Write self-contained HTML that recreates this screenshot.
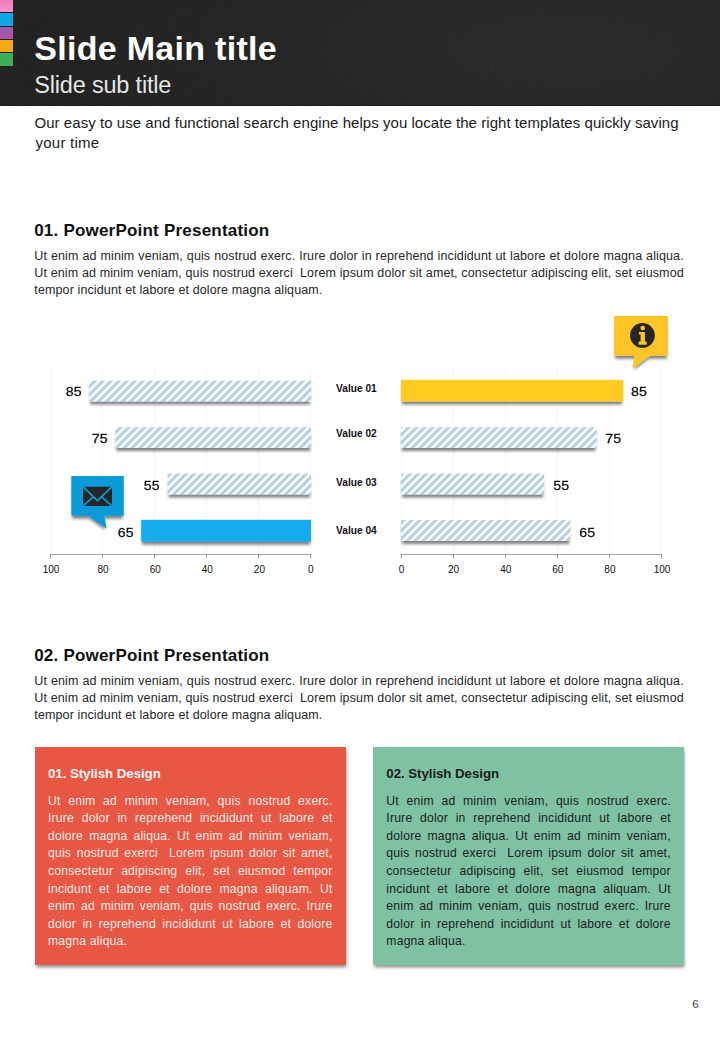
<!DOCTYPE html>
<html>
<head>
<meta charset="utf-8">
<title>Slide</title>
<style>
html,body{margin:0;padding:0;}
body{width:720px;height:1040px;position:relative;overflow:hidden;background:#fff;font-family:"Liberation Sans",sans-serif;color:#1a1a1a;}
.abs{position:absolute;white-space:nowrap;transform-origin:0 0;}
#hdr{position:absolute;left:0;top:0;width:720px;height:106px;background:radial-gradient(ellipse 520px 160px at 560px 50px,#282828 0%,#222222 60%,#1f1f1f 100%);border-bottom:0;box-shadow:inset 0 -1px 0 #161616;}
.tab{position:absolute;left:0;width:12.6px;height:12.3px;}
#t1{left:34.2px;top:25.5px;letter-spacing:0.3px;font-size:34px;font-weight:bold;color:#fff;line-height:44px;}
#t2{left:34.2px;top:69.9px;letter-spacing:-0.18px;font-size:23.5px;color:#e6e6e6;line-height:30px;}
.intro{font-size:15px;line-height:20px;color:#1a1a1a;}
.h2{letter-spacing:0.21px;font-size:17px;font-weight:bold;line-height:22px;color:#111;}
.p{font-size:12.5px;line-height:17.1px;color:#262626;letter-spacing:0.12px;}
.j{width:649.5px;text-align:justify;text-align-last:justify;}
.ax{font-size:10px;line-height:12px;color:#111;text-align:center;width:30px;}
.dl{font-size:14.2px;line-height:16px;color:#111;-webkit-text-stroke:0.3px #111;letter-spacing:0.1px;transform:scaleY(0.93);transform-origin:0 50%;}
.vl{font-size:10.2px;font-weight:bold;line-height:12px;color:#111;}
.box{position:absolute;top:747px;width:311px;height:218px;box-shadow:0.5px 2.5px 3px rgba(0,0,0,.42);}
.bh{font-size:13.3px;font-weight:bold;line-height:16px;letter-spacing:-0.06px;}
.bp{font-size:12.2px;line-height:17.6px;letter-spacing:0.2px;}
.bj{width:284.5px;text-align:justify;text-align-last:justify;}
</style>
</head>
<body>
<div id="hdr"></div>
<svg class="abs" style="left:0;top:0;opacity:.05" width="720" height="106"><filter id="nz"><feTurbulence type="fractalNoise" baseFrequency="0.45" numOctaves="2" seed="3"/><feColorMatrix type="saturate" values="0"/></filter><rect width="720" height="106" filter="url(#nz)"/></svg>
<div class="tab" style="top:0;background:linear-gradient(#f47cbd,#f68fcb)"></div>
<div class="tab" style="top:13.3px;background:#12a5e3"></div>
<div class="tab" style="top:27px;background:linear-gradient(#9a5bb0,#ab53a8)"></div>
<div class="tab" style="top:40px;height:12px;background:#f5a914"></div>
<div class="tab" style="top:53px;height:13px;background:#3eae5a"></div>
<div id="t1" class="abs">Slide Main title</div>
<div id="t2" class="abs">Slide sub title</div>

<div id="i1" class="abs intro" style="left:34.5px;top:113px;letter-spacing:0.047px">Our easy to use and functional search engine helps you locate the right templates quickly saving</div>
<div id="i2" class="abs intro" style="left:35.5px;top:133px;letter-spacing:0.25px">your time</div>

<div id="h1" class="abs h2" style="left:34.2px;top:219.6px">01. PowerPoint Presentation</div>
<div id="p11" class="abs p j" style="left:34.3px;top:248.0px">Ut enim ad minim veniam, quis nostrud exerc. Irure dolor in reprehend incididunt ut labore et dolore magna aliqua.</div>
<div id="p12" class="abs p j" style="left:34.3px;top:265.1px">Ut enim ad minim veniam, quis nostrud exerci&nbsp; Lorem ipsum dolor sit amet, consectetur adipiscing elit, set eiusmod</div>
<div id="p13" class="abs p" style="left:34.3px;top:282.2px">tempor incidunt et labore et dolore magna aliquam.</div>

<svg id="chart" class="abs" style="left:0;top:300px" width="720" height="300" viewBox="0 300 720 300">
<defs>
<pattern id="hatch" width="8" height="8" patternUnits="userSpaceOnUse" patternTransform="translate(0,4)">
<rect width="8" height="8" fill="#fff"/>
<path d="M-2,2L2,-2M-2,10L10,-2M6,10L10,6" stroke="#b4d1dc" stroke-width="3.15"/>
</pattern>
<filter id="sh" x="-10%" y="-30%" width="120%" height="190%"><feMorphology in="SourceAlpha" operator="erode" radius="1"/><feGaussianBlur stdDeviation="1.4"/><feOffset dx="0" dy="4"/><feComponentTransfer><feFuncA type="linear" slope="0.5"/></feComponentTransfer><feMerge><feMergeNode/><feMergeNode in="SourceGraphic"/></feMerge></filter>
</defs>
<path d="M50.5,367.5V554M102.5,367.5V554M154.5,367.5V554M206.5,367.5V554M258.5,367.5V554M310.5,367.5V554M401.5,367.5V554M453.5,367.5V554M505.5,367.5V554M557.5,367.5V554M609.5,367.5V554M661.5,367.5V554" stroke="#f5f5f7" stroke-width="1" fill="none"/>
<path d="M50,554.5H311M50.5,554V558.5M102.5,554V558.5M154.5,554V558.5M206.5,554V558.5M258.5,554V558.5M310.5,554V558.5M401.5,554V558.5M453.5,554V558.5M505.5,554V558.5M557.5,554V558.5M609.5,554V558.5M661.5,554V558.5" stroke="#a0a0a0" stroke-width="1" fill="none"/>
<path d="M401,554.5H662" stroke="#a0a0a0" stroke-width="1" fill="none"/>
<g filter="url(#sh)">
<rect x="89.2" y="380.6" width="221.8" height="20.9" fill="url(#hatch)"/>
<rect x="115.3" y="427.1" width="195.7" height="20.9" fill="url(#hatch)"/>
<rect x="167.6" y="473.6" width="143.4" height="20.9" fill="url(#hatch)"/>
<rect x="141.2" y="519.8" width="169.8" height="21.9" fill="#12adef"/>
<rect x="401" y="379.8" width="222.1" height="21.7" fill="#ffcc24"/>
<rect x="401" y="427.1" width="195.5" height="20.9" fill="url(#hatch)"/>
<rect x="401" y="473.6" width="143.2" height="20.9" fill="url(#hatch)"/>
<rect x="401" y="520.1" width="169.3" height="20.9" fill="url(#hatch)"/>
</g>
<!-- blue callout -->
<g filter="url(#sh)">
<path d="M71.3,476.1H123.8V515.7H104.4L106.6,528.8L88,515.7H71.3Z" fill="#0f9ad8"/>
</g>
<g>
<rect x="83" y="486.7" width="29" height="19.2" rx="1.6" fill="#262626"/>
<path d="M83.4,487.2L97.5,500.6L111.6,487.2M83.5,505.6L93.3,496.9M111.5,505.6L101.7,496.9" stroke="#0f9ad8" stroke-width="1.7" fill="none"/>
</g>
<!-- yellow callout -->
<g filter="url(#sh)">
<path d="M614.1,316H667.9V355.8H650L632.7,368.4L634.4,355.8H614.1Z" fill="#ffc526"/>
</g>
<circle cx="642.4" cy="335.4" r="12.4" fill="#262626"/>
<g fill="#ffc526">
<circle cx="642.7" cy="328" r="2.3"/>
<path d="M638.9,332H644.9V341.5H646.7V344.7H638.6V341.5H640.6V334.6H638.9Z"/>
</g>
</svg>

<div class="abs vl" id="v1" style="left:336px;top:383.4px">Value 01</div>
<div class="abs vl" id="v2" style="left:336px;top:427.8px">Value 02</div>
<div class="abs vl" id="v3" style="left:336px;top:476.8px">Value 03</div>
<div class="abs vl" id="v4" style="left:336px;top:524.8px">Value 04</div>

<div class="abs dl" id="d1" style="left:65.8px;top:383.4px">85</div>
<div class="abs dl" id="d2" style="left:91.8px;top:430.0px">75</div>
<div class="abs dl" id="d3" style="left:143.8px;top:477.4px">55</div>
<div class="abs dl" id="d4" style="left:117.8px;top:523.9px">65</div>
<div class="abs dl" id="d5" style="left:631.0px;top:383.4px">85</div>
<div class="abs dl" id="d6" style="left:605.2px;top:430.0px">75</div>
<div class="abs dl" id="d7" style="left:553.2px;top:477.4px">55</div>
<div class="abs dl" id="d8" style="left:579.2px;top:523.9px">65</div>

<div class="abs ax" id="a1" style="left:36.0px;top:563.8px">100</div>
<div class="abs ax" style="left:88.1px;top:563.8px">80</div>
<div class="abs ax" style="left:140.2px;top:563.8px">60</div>
<div class="abs ax" style="left:192.3px;top:563.8px">40</div>
<div class="abs ax" style="left:244.4px;top:563.8px">20</div>
<div class="abs ax" style="left:295.7px;top:563.8px">0</div>
<div class="abs ax" style="left:386.5px;top:563.8px">0</div>
<div class="abs ax" style="left:438.6px;top:563.8px">20</div>
<div class="abs ax" style="left:490.7px;top:563.8px">40</div>
<div class="abs ax" style="left:542.8px;top:563.8px">60</div>
<div class="abs ax" style="left:594.9px;top:563.8px">80</div>
<div class="abs ax" id="a2" style="left:647.0px;top:563.8px">100</div>

<div id="h2" class="abs h2" style="left:34.2px;top:644.6px">02. PowerPoint Presentation</div>
<div id="p21" class="abs p j" style="left:34.3px;top:673.0px">Ut enim ad minim veniam, quis nostrud exerc. Irure dolor in reprehend incididunt ut labore et dolore magna aliqua.</div>
<div id="p22" class="abs p j" style="left:34.3px;top:690.1px">Ut enim ad minim veniam, quis nostrud exerci&nbsp; Lorem ipsum dolor sit amet, consectetur adipiscing elit, set eiusmod</div>
<div id="p23" class="abs p" style="left:34.3px;top:707.2px">tempor incidunt et labore et dolore magna aliquam.</div>

<div class="box" id="b1" style="left:35px;background:#e85744"></div>
<div class="box" id="b2" style="left:373px;background:#7ec2a3"></div>

<div class="abs bh" id="bh1" style="left:48px;top:766.4px;color:#fff6f4">01. Stylish Design</div>
<div class="abs bp bj" id="b1l1" style="left:48px;top:792.5px;color:#fdebe8">Ut enim ad minim veniam, quis nostrud exerc.</div>
<div class="abs bp bj" id="b1l2" style="left:48px;top:810.1px;color:#fdebe8">Irure dolor in reprehend incididunt ut labore et</div>
<div class="abs bp bj" id="b1l3" style="left:48px;top:827.7px;color:#fdebe8">dolore magna aliqua. Ut enim ad minim veniam,</div>
<div class="abs bp bj" id="b1l4" style="left:48px;top:845.3px;color:#fdebe8">quis nostrud exerci&nbsp; Lorem ipsum dolor sit amet,</div>
<div class="abs bp bj" id="b1l5" style="left:48px;top:862.9px;color:#fdebe8">consectetur adipiscing elit, set eiusmod tempor</div>
<div class="abs bp bj" id="b1l6" style="left:48px;top:880.5px;color:#fdebe8">incidunt et labore et dolore magna aliquam. Ut</div>
<div class="abs bp bj" id="b1l7" style="left:48px;top:898.1px;color:#fdebe8">enim ad minim veniam, quis nostrud exerc. Irure</div>
<div class="abs bp bj" id="b1l8" style="left:48px;top:915.7px;color:#fdebe8">dolor in reprehend incididunt ut labore et dolore</div>
<div class="abs bp" id="b1l9" style="left:48px;top:933.3px;color:#fdebe8">magna aliqua.</div>
<div class="abs bh" id="bh2" style="left:386.3px;top:766.4px;color:#1c1c1c">02. Stylish Design</div>
<div class="abs bp bj" id="b2l1" style="left:386.3px;top:792.5px;color:#1c1c1c">Ut enim ad minim veniam, quis nostrud exerc.</div>
<div class="abs bp bj" id="b2l2" style="left:386.3px;top:810.1px;color:#1c1c1c">Irure dolor in reprehend incididunt ut labore et</div>
<div class="abs bp bj" id="b2l3" style="left:386.3px;top:827.7px;color:#1c1c1c">dolore magna aliqua. Ut enim ad minim veniam,</div>
<div class="abs bp bj" id="b2l4" style="left:386.3px;top:845.3px;color:#1c1c1c">quis nostrud exerci&nbsp; Lorem ipsum dolor sit amet,</div>
<div class="abs bp bj" id="b2l5" style="left:386.3px;top:862.9px;color:#1c1c1c">consectetur adipiscing elit, set eiusmod tempor</div>
<div class="abs bp bj" id="b2l6" style="left:386.3px;top:880.5px;color:#1c1c1c">incidunt et labore et dolore magna aliquam. Ut</div>
<div class="abs bp bj" id="b2l7" style="left:386.3px;top:898.1px;color:#1c1c1c">enim ad minim veniam, quis nostrud exerc. Irure</div>
<div class="abs bp bj" id="b2l8" style="left:386.3px;top:915.7px;color:#1c1c1c">dolor in reprehend incididunt ut labore et dolore</div>
<div class="abs bp" id="b2l9" style="left:386.3px;top:933.3px;color:#1c1c1c">magna aliqua.</div>
<div id="pg" class="abs" style="left:692.3px;top:996.7px;font-size:11.5px;line-height:14px;color:#444">6</div>
</body>
</html>
